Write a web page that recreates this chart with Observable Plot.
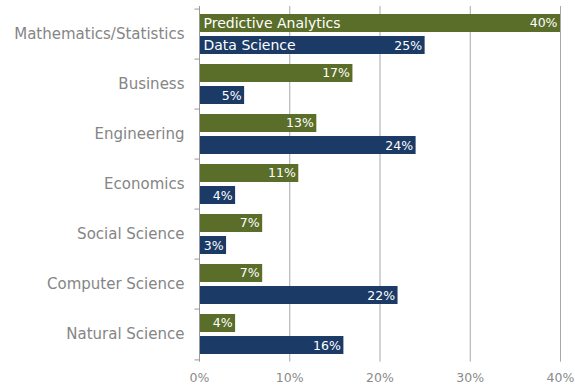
<!DOCTYPE html>
<html>
<head>
<meta charset="utf-8">
<script src="https://cdn.jsdelivr.net/npm/d3@7"></script>
<script src="https://cdn.jsdelivr.net/npm/@observablehq/plot@0.6"></script>
<style>
  html, body { margin: 0; padding: 0; background: #fff; }
  #chart svg { display: block; }
</style>
</head>
<body>
<div id="chart"></div>
<script>
const categories = ["Mathematics/Statistics", "Business", "Engineering", "Economics", "Social Science", "Computer Science", "Natural Science"];
const series = ["Predictive Analytics", "Data Science"];
const predictive = [40, 17, 13, 11, 7, 7, 4];
const dataScience = [25, 5, 24, 4, 3, 22, 16];
const xTicks = [0, 10, 20, 30, 40];

const green = "#5a6e2a";
const blue = "#1b3a66";

const rows = categories.flatMap((c, i) => [
  {category: c, series: series[0], value: predictive[i]},
  {category: c, series: series[1], value: dataScience[i]}
]);
const pa = rows.filter(d => d.series === series[0]);
const ds = rows.filter(d => d.series === series[1]);

const H = 386;
const marginTop = 6, marginBottom = 24.3;
const band = (H - marginTop - marginBottom) / categories.length;
const pad = 5, barH = 18.8;
const off = band / 2 - pad - barH / 2;

const chart = Plot.plot({
  width: 575,
  height: H,
  marginLeft: 199,
  marginRight: 15,
  marginTop,
  marginBottom,
  style: {fontFamily: "DejaVu Sans", background: "#fff"},
  x: {domain: [0, 40]},
  y: {domain: categories, padding: 0},
  marks: [
    Plot.ruleX(xTicks.filter(d => d > 0), {stroke: "#a8a8a8", strokeWidth: 1}),
    Plot.barX(pa, {x: "value", y: "category", fill: green, insetTop: pad, insetBottom: band - pad - barH}),
    Plot.barX(ds, {x: "value", y: "category", fill: blue, insetTop: band - pad - barH, insetBottom: pad}),
    Plot.ruleX([0], {stroke: "#9a9a9a", strokeWidth: 1}),
    Plot.ruleY(categories, {y: d => d, x1: -0.5, x2: 0, dy: -band / 2, stroke: "#9a9a9a"}),
    Plot.ruleY(categories.slice(-1), {y: d => d, x1: -0.5, x2: 0, dy: band / 2, stroke: "#9a9a9a"}),
    Plot.text(pa, {x: "value", y: "category", text: d => d.value + "%", textAnchor: "end", dx: -3, dy: -off, fill: "#fff", fontSize: 12.5}),
    Plot.text(ds, {x: "value", y: "category", text: d => d.value + "%", textAnchor: "end", dx: -3, dy: off, fill: "#fff", fontSize: 12.5}),
    Plot.text([series[0]], {x: 0, y: () => categories[0], text: d => d, textAnchor: "start", dx: 4, dy: -off, fill: "#fff", fontSize: 14}),
    Plot.text([series[1]], {x: 0, y: () => categories[0], text: d => d, textAnchor: "start", dx: 4, dy: off, fill: "#fff", fontSize: 14}),
    Plot.axisY({tickSize: 0, tickPadding: 15, fontSize: 15, color: "#858585", label: null}),
    Plot.axisX({ticks: xTicks, tickFormat: d => d + "%", tickSize: 0, tickPadding: 11, fontSize: 12.5, color: "#8a8a8a", label: null})
  ]
});
document.getElementById("chart").appendChild(chart);
</script>
</body>
</html>
